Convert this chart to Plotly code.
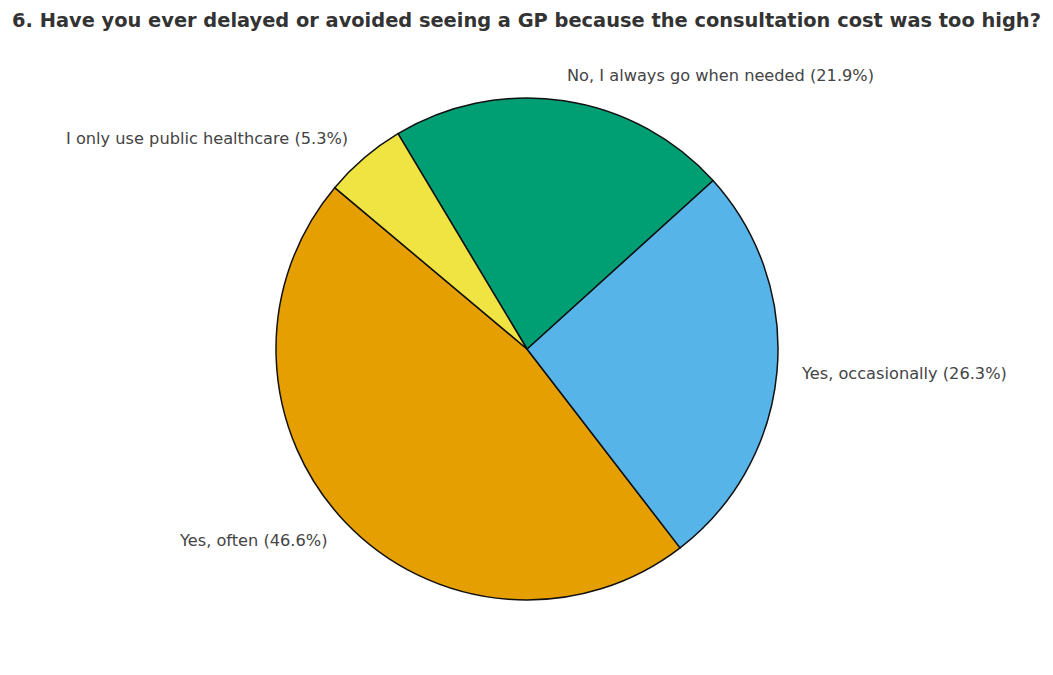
import numpy as np
import plotly.graph_objects as go

labels = ["Yes, often", "Yes, occasionally", "No, I always go when needed", "I only use public healthcare"]
values = [46.6, 26.3, 21.9, 5.3]
colors = ["#E69F00", "#56B4E9", "#009E73", "#F0E442"]
title = "6. Have you ever delayed or avoided seeing a GP because the consultation cost was too high?"

W, H = 1053, 675
cx, cy, R = 527, 349, 251          # pie centre / radius in pixels
start_angle = 140                  # degrees, counter-clockwise from 3 o'clock
label_dist = 1.1

vals = np.array(values, dtype=float)
frac = vals / vals.sum()
cum = np.concatenate([[0], np.cumsum(frac)])

# plotly (counterclockwise) puts the end of the first slice at the rotation angle
end_first = start_angle + 360 * frac[0]
rotation = 90 - end_first
while rotation < -360:
    rotation += 360

fig = go.Figure()
fig.add_trace(go.Pie(
    labels=labels, values=values, sort=False,
    direction="counterclockwise", rotation=rotation,
    marker=dict(colors=colors, line=dict(color="#111111", width=1.5)),
    textinfo="none", hoverinfo="label+percent", showlegend=False,
    domain=dict(x=[(cx - R) / W, (cx + R) / W], y=[(H - cy - R) / H, (H - cy + R) / H]),
))

for i, lab in enumerate(labels):
    mid = np.deg2rad(start_angle + 360 * (cum[i] + cum[i + 1]) / 2)
    px = cx + label_dist * R * np.cos(mid)
    py = cy - label_dist * R * np.sin(mid)
    right_side = np.cos(mid) > 0
    fig.add_annotation(
        x=px / W, y=1 - py / H, xref="paper", yref="paper",
        text=f"{lab} ({values[i]:.1f}%)", showarrow=False,
        xanchor="left" if right_side else "right", yanchor="middle",
        xshift=-3 if right_side else 2,
        font=dict(family="DejaVu Sans", size=16.2, color="#444444"),
    )

fig.update_layout(
    width=W, height=H,
    margin=dict(l=0, r=0, t=0, b=0),
    paper_bgcolor="white", plot_bgcolor="white",
    title=dict(text=f"<b>{title}</b>", x=0.5, xanchor="center", y=1 - 20 / H, yanchor="middle",
               yref="container", font=dict(family="DejaVu Sans", size=19.4, color="#333333")),
)
fig.write_html("out.html")
